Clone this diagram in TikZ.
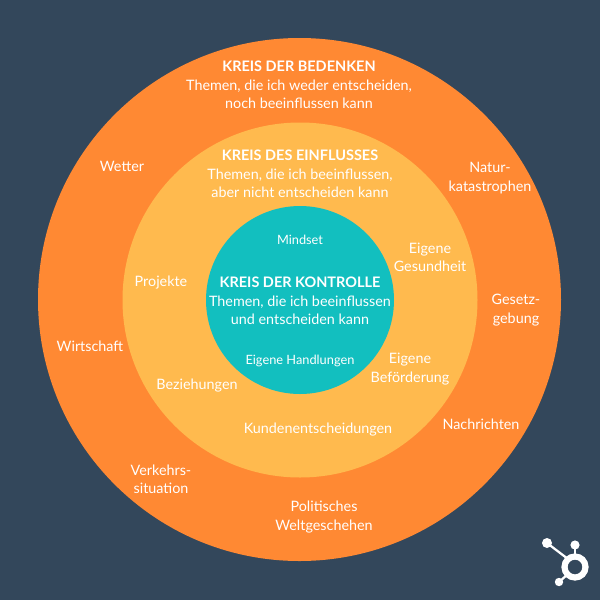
\documentclass[tikz,border=0pt]{standalone}
\usepackage{fontspec}
\setmainfont{Lato}
\definecolor{bgblue}{HTML}{33475B}
\definecolor{outerorange}{HTML}{FF8933}
\definecolor{midyellow}{HTML}{FFBA4E}
\definecolor{innerteal}{HTML}{12BFBF}
\tikzset{
	topic/.style={text=white, align=center, font=\fontsize{10.2}{13}\selectfont, inner sep=0pt},
	smalltopic/.style={topic, font=\fontsize{9.1}{11}\selectfont},
	logoline/.style={white, line width=1.6pt, line cap=round}
}
\newcommand{\heading}[1]{{\fontsize{10.3}{13}\selectfont\bfseries #1}}
\begin{document}
\begin{tikzpicture}[x=0.025cm, y=-0.025cm]
	\fill[bgblue] (0,0) rectangle (600,600);
	\useasboundingbox (0,0) rectangle (600,600);
	% the three circles
	\fill[outerorange] (299.5,299.5) circle (261.5);
	\fill[midyellow] (300,300) circle (177.5);
	\fill[innerteal] (300,300) circle (94);
	% headings
	\node[topic] (bedenken) at (299,85) {\heading{KREIS DER BEDENKEN}\\Themen, die ich weder entscheiden,\\noch beeinflussen kann};
	\node[topic] (einfluss) at (300,174) {\heading{KREIS DES EINFLUSSES}\\Themen, die ich beeinflussen,\\aber nicht entscheiden kann};
	\node[topic] (kontrolle) at (300,301) {\heading{KREIS DER KONTROLLE}\\Themen, die ich beeinflussen\\und entscheiden kann};
	% inner circle
	\node[smalltopic] (mindset) at (300,240) {Mindset};
	\node[smalltopic] (handlungen) at (300,361) {Eigene Handlungen};
	% middle circle
	\node[topic] (gesundheit) at (430,257) {Eigene\\Gesundheit};
	\node[topic] (projekte) at (161,283) {Projekte};
	\node[topic] (beziehungen) at (197,386) {Beziehungen};
	\node[topic] (befoerderung) at (410,369) {Eigene\\Beförderung};
	\node[topic] (kunden) at (318,430) {Kundenentscheidungen};
	% outer circle
	\node[topic] (wetter) at (122,166) {Wetter};
	\node[topic] (natur) at (490,178) {Natur-\\katastrophen};
	\node[topic] (gesetz) at (516,310) {Gesetz-\\gebung};
	\node[topic] (wirtschaft) at (90,346) {Wirtschaft};
	\node[topic] (nachrichten) at (481,424) {Nachrichten};
	\node[topic] (verkehr) at (161,479) {Verkehrs-\\situation};
	\node[topic] (politik) at (324,517) {Politisches\\Weltgeschehen};
	% logo
	\draw[white, line width=4.4pt] (575,567) circle (10.5);
	\fill[white] (575,545) circle (4.6);
	\fill[white] (547,543) circle (5);
	\fill[white] (559,582) circle (4.2);
	\draw[logoline] (575,545) -- (575,557);
	\draw[logoline] (547,543) -- (568,559);
	\draw[logoline] (559,582) -- (568,574);
\end{tikzpicture}
\end{document}
